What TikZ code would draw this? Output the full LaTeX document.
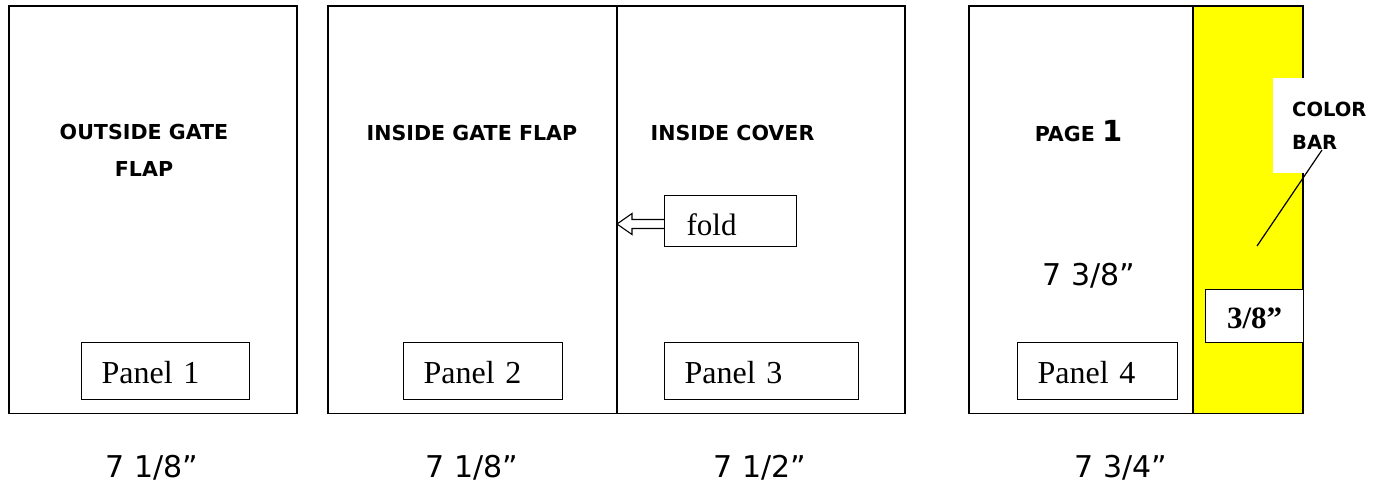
\documentclass[tikz,border=0pt]{standalone}
\usepackage{fontspec}
\setmainfont{Liberation Serif}
\setsansfont{DejaVu Sans}
\usetikzlibrary{positioning}
\definecolor{barYellow}{RGB}{255,255,0}
\tikzstyle{panel} = [rectangle, draw, line width=1.3pt, anchor=north west,
    inner xsep=20pt, inner ysep=0pt, align=left, text height=41pt, text depth=16pt,
    font=\fontsize{32}{36}\selectfont]
\tikzstyle{head} = [font=\sffamily\bfseries\fontsize{20.6}{37}\selectfont, align=center]
\tikzstyle{dim} = [font=\sffamily\fontsize{30}{36}\selectfont, anchor=base]

\begin{document}
\begin{tikzpicture}[
x=1pt, y=-1pt,
sheet/.style = {draw, line width=1.8pt},
crease line/.style = {draw, line width=1.5pt},
foldbox/.style = {panel, inner xsep=22pt, text height=40pt, text depth=11pt, font=\fontsize{31}{36}\selectfont},
barbox/.style = {rectangle, draw, fill=white, line width=1.3pt, anchor=north west,
    minimum width=98pt, inner xsep=0pt, inner ysep=0pt, text height=39pt, text depth=14pt,
    font=\bfseries\fontsize{31}{36}\selectfont},
cbox/.style = {rectangle, fill=white, anchor=north west, inner xsep=19pt, inner ysep=0pt,
    text width=76pt, minimum height=95pt, align=left,
    font=\sffamily\bfseries\fontsize{19.5}{33}\selectfont},
foldarrow/.style = {draw, line width=1.1pt, line join=miter}
                        ]
\useasboundingbox (0,0) rectangle (1384,482);

% sheet 1
\draw[sheet] (9,6) rectangle (297,413.5);
\node [head] (outflap) at (144,150.5) {OUTSIDE GATE\\FLAP};
\node [panel, text width=128pt] (p1) at (81,342) {Panel 1};

% sheet 2 with the fold
\draw[sheet] (328,6) rectangle (905,413.5);
\draw[crease line] (617,6) -- (617,413.5);
\coordinate (crease) at (617,224);
\node [head, anchor=base] (inflap) at (472,140.5) {INSIDE GATE FLAP};
\node [head, anchor=base] (incover) at (732.5,140.5) {INSIDE COVER};
\node [foldbox, text width=88pt] (fold) at (664,195) {fold};
\draw[foldarrow] (fold.west |- crease) ++(0,-4.5) -- ++(-32,0) -- ++(0,-6) -- (crease)
    -- ++(15,10.5) -- ++(0,-6) -- ++(32,0);
\node [panel, text width=119pt] (p2) at (403,342) {Panel 2};
\node [panel, text width=154pt] (p3) at (664,342) {Panel 3};

% sheet 3 with the colour bar
\fill[barYellow] (1193,6) rectangle (1303,413.5);
\draw[sheet] (969,6) rectangle (1303,413.5);
\draw[crease line, line width=1.3pt] (1193,6) -- (1193,413.5);
\node [head, anchor=base] (page) at (1078.5,141) {PAGE {\fontsize{29}{30}\selectfont 1}};
\node [dim] (height) at (1089,285) {7 3/8”};
\node [cbox] (colorbar) at (1273,78) {COLOR\\BAR};
\coordinate (barlabel) at (1322,150);
\coordinate (barspot) at (1257,246);
\draw[line width=1.2pt] (barlabel) -- (barspot);
\node [barbox] (barwidth) at (1205,289) {3/8”};
\node [panel, text width=120pt] (p4) at (1017,342) {Panel 4};

% widths
\node [dim] (w1) at (152,477) {7 1/8”};
\node [dim] (w2) at (472,477) {7 1/8”};
\node [dim] (w3) at (760,477) {7 1/2”};
\node [dim] (w4) at (1121,477) {7 3/4”};
\end{tikzpicture}
\end{document}
